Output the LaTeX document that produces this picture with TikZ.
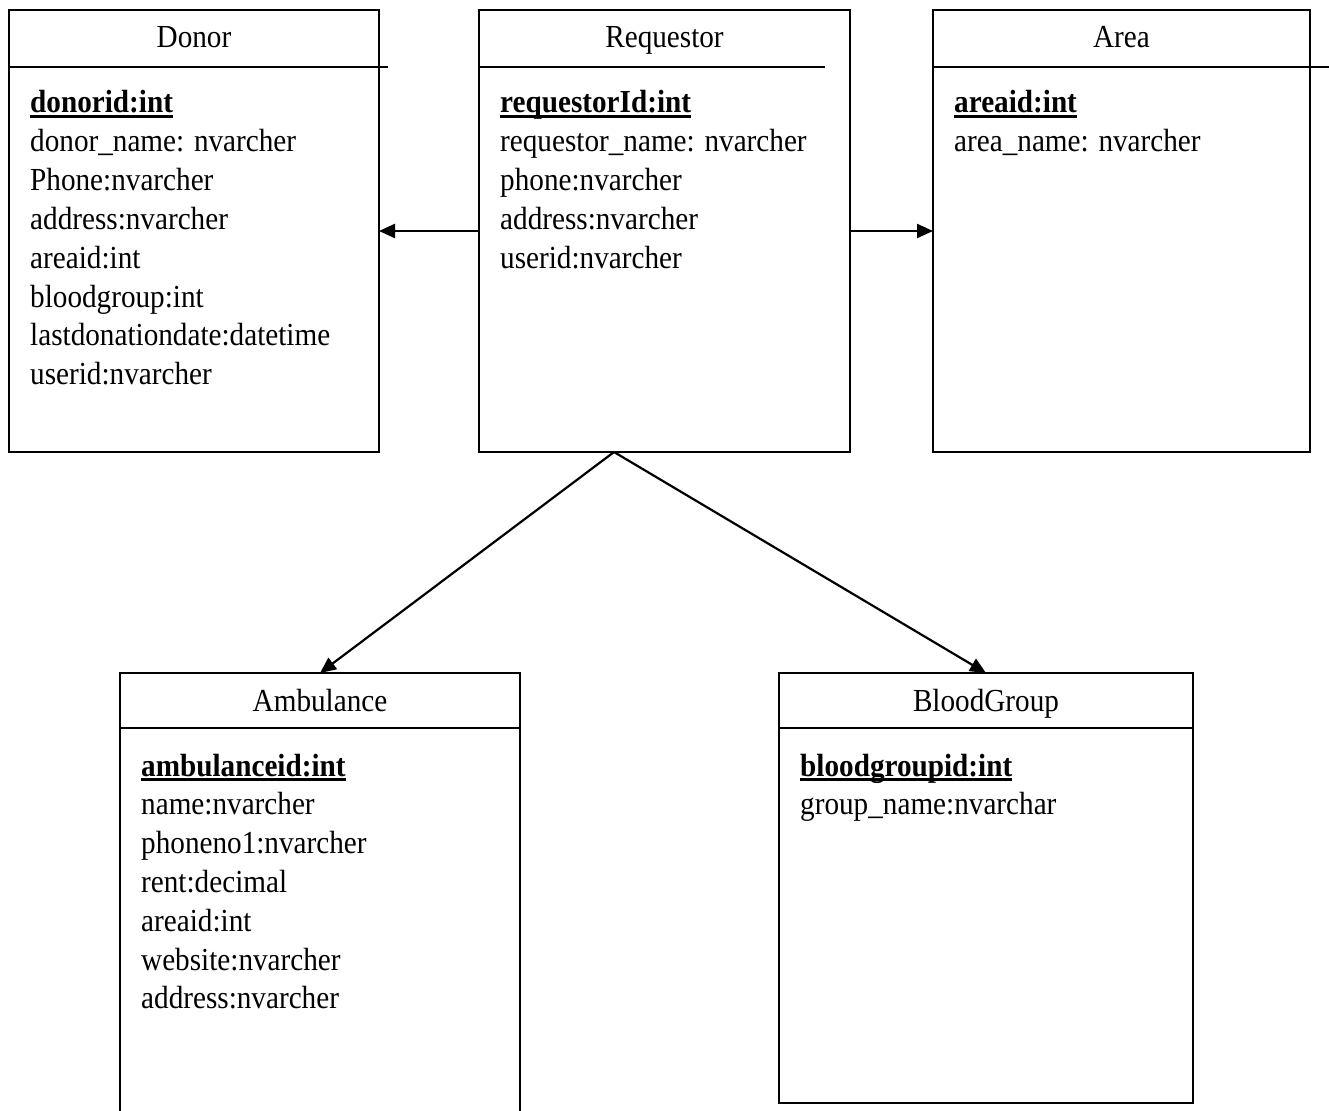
\documentclass[tikz,border=0pt]{standalone}
\usepackage{fontspec}
\usepackage{graphicx}
\setmainfont{Liberation Serif}
\usetikzlibrary{arrows.meta}

% bold, underlined primary key
\newcommand\pkey[1]{\setbox0\hbox{\bfseries #1}\rlap{\rule[-4.5pt]{\wd0}{2.6pt}}\box0}
% text set slightly taller than wide
\newcommand\tall[1]{\scalebox{1}[1.1]{#1}}

\tikzset{
  entity/.style={draw, line width=2.2pt, anchor=north west, inner sep=0pt, outer sep=0pt},
  sepline/.style={line width=2pt},
  title/.style={anchor=base, inner sep=0pt, font=\fontsize{29.2}{36}\selectfont},
  field/.style={anchor=base west, inner sep=0pt, font=\fontsize{29.2}{36}\selectfont},
  rel/.style={line width=2.2pt, -{Triangle[length=16pt,width=14pt]}},
}

\begin{document}
\begin{tikzpicture}[x=1pt, y=-1pt]
\useasboundingbox (0,0) rectangle (1329,1110);
\clip (0,0) rectangle (1329,1110);

% ---- entity boxes ----
\node[entity, minimum width=370pt, minimum height=442pt] (donor) at (9,10) {};
\node[entity, minimum width=371pt, minimum height=442pt] (req) at (479,10) {};
\node[entity, minimum width=377pt, minimum height=442pt] (area) at (933,10) {};
\node[entity, minimum width=400pt, minimum height=470pt] (amb) at (120,673) {};
\node[entity, minimum width=414pt, minimum height=430pt] (bg) at (779,673) {};

% ---- header separators ----
\draw[sepline] ([yshift=-57.5pt]donor.north west) -- +(379,0);
\draw[sepline] ([yshift=-57.5pt]req.north west) -- +(346,0);
\draw[sepline] ([yshift=-57.5pt]area.north west) -- +(400,0);
\draw[sepline] ([yshift=-54.5pt]amb.north west) -- +(400,0);
\draw[sepline] ([yshift=-54.5pt]bg.north west) -- +(414,0);

% ---- titles ----
\node[title] (donor-t) at ([yshift=-38pt]donor.north) {\tall{Donor}};
\node[title] (req-t) at ([yshift=-38pt]req.north) {\tall{Requestor}};
\node[title] (area-t) at ([yshift=-38pt]area.north) {\tall{Area}};
\node[title] (amb-t) at ([yshift=-38pt]amb.north) {\tall{Ambulance}};
\node[title] (bg-t) at ([yshift=-38pt]bg.north) {\tall{BloodGroup}};

% ---- attributes ----
\newcommand\attrs[2]{%
  \foreach \t [count=\k, remember=\k as \j (initially 0)] in {#2} {%
    \ifnum\k=1
      \node[field] (#1-\k) at ([xshift=21pt,yshift=-103pt]#1.north west) {\tall{\t}};
    \else
      \node[field] (#1-\k) at ([yshift=-38.8pt]#1-\j.base west) {\tall{\t}};
    \fi
  }%
}

\attrs{donor}{\pkey{donorid:int}, donor\_name: nvarcher, Phone:nvarcher,
  address:nvarcher, areaid:int, bloodgroup:int,
  lastdonationdate:datetime, userid:nvarcher}
\attrs{req}{\pkey{requestorId:int}, requestor\_name: nvarcher, phone:nvarcher,
  address:nvarcher, userid:nvarcher}
\attrs{area}{\pkey{areaid:int}, area\_name: nvarcher}
\attrs{amb}{\pkey{ambulanceid:int}, name:nvarcher, phoneno1:nvarcher,
  rent:decimal, areaid:int, website:nvarcher, address:nvarcher}
\attrs{bg}{\pkey{bloodgroupid:int}, group\_name:nvarchar}

% ---- relationships ----
\coordinate (fork) at (614,452);
\draw[rel] (req.west) -- (donor.east);
\draw[rel] (req.east) -- (area.west);
\draw[rel] (fork) -- (amb.north);
\draw[rel] (fork) -- (bg.north);
\end{tikzpicture}
\end{document}
